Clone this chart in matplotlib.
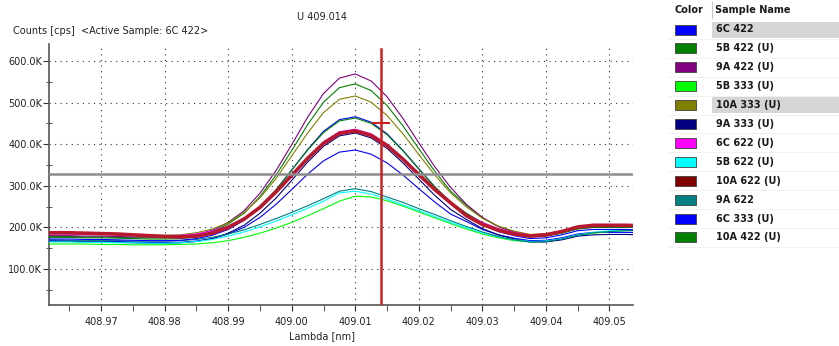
import numpy as np
import matplotlib
matplotlib.use('Agg')
import matplotlib.pyplot as plt
from matplotlib.patches import Rectangle
from matplotlib.ticker import FuncFormatter, MultipleLocator

# wavelength grid [nm] and counts [kcps]
lam = np.round(np.arange(408.960, 409.0551, 0.0025), 4)

s_6C_422 = [168,168,168,167,167,166,165,164,164,164,167,173,184,200,224,255,291,328,360,381,386,376,355,326,293,261,232,214,195,182,174,168,169,175,184,188,188,188,187]
s_5B_422 = [178,178,178,177,177,176,175,175,175,176,181,190,208,234,274,325,385,447,501,536,545,529,493,444,389,335,287,253,223,202,189,180,182,189,199,202,202,202,202]
s_9A_422 = [180,180,180,179,179,178,177,177,177,178,183,193,212,240,282,336,399,465,522,559,569,552,514,462,403,346,296,255,224,202,188,178,180,187,197,200,200,200,200]
s_5B_333 = [160,160,160,160,159,159,158,158,158,159,160,163,168,176,186,198,212,228,245,263,275,273,264,251,237,223,209,196,184,175,168,165,166,171,180,186,190,192,193]
s_10A_333 = [185,185,185,184,184,183,182,182,181,182,187,196,211,236,271,317,372,427,476,508,516,501,469,425,375,326,283,249,222,203,191,183,185,192,201,204,204,204,204]
s_9A_333 = [166,166,166,165,165,164,163,162,162,163,166,173,186,205,234,270,313,357,395,420,427,415,390,355,316,277,243,219,197,182,172,165,165,170,179,182,183,183,182]
s_6C_622 = [184,184,184,183,183,182,181,180,180,181,184,191,203,222,249,284,326,368,406,430,436,425,400,366,328,291,259,233,212,197,188,182,184,191,200,203,203,203,203]
s_5B_622 = [165,165,165,164,164,163,163,162,162,163,166,171,179,189,201,215,230,246,263,283,287,280,268,254,240,226,212,199,187,177,170,166,167,173,182,188,192,194,194]
s_10A_622 = [187,187,187,186,185,184,182,180,178,177,179,186,200,220,248,285,325,366,402,426,432,421,397,364,327,291,259,228,207,193,184,179,182,190,201,205,205,205,204]
s_9A_622 = [170,170,169,169,168,168,167,167,167,168,171,176,184,194,207,221,236,252,269,287,293,286,273,260,245,231,216,202,189,178,170,165,166,172,181,187,190,192,192]
s_6C_333 = [172,172,172,171,171,170,169,168,168,169,173,181,195,217,248,289,338,387,431,459,466,453,425,385,341,297,259,232,207,190,180,173,175,182,192,195,195,195,194]
s_10A_422 = [176,176,176,175,175,174,173,172,172,173,177,185,198,220,251,290,338,386,428,456,463,450,423,384,340,298,261,234,210,194,183,177,179,186,196,200,200,200,200]

names = ['6C 422', '5B 422 (U)', '9A 422 (U)', '5B 333 (U)', '10A 333 (U)', '9A 333 (U)',
         '6C 622 (U)', '5B 622 (U)', '10A 622 (U)', '9A 622', '6C 333 (U)', '10A 422 (U)']
colors = ['#0000ff', '#008000', '#800080', '#00ff00', '#808000', '#000080',
          '#ff00ff', '#00ffff', '#800000', '#008080', '#0000ff', '#008000']
series = [s_6C_422, s_5B_422, s_9A_422, s_5B_333, s_10A_333, s_9A_333,
          s_6C_622, s_5B_622, s_10A_622, s_9A_622, s_6C_333, s_10A_422]
highlighted = ['6C 422', '10A 333 (U)']

cursor_x = 409.014
hline_y = 328e3
cursor_mark_y = 452e3

fig = plt.figure(figsize=(8.39, 3.46), dpi=100)
ax = fig.add_axes([49/839, 41.3/346, 584/839, 260.7/346])

for name, col, s in zip(names, colors, series):
    if name == '10A 622 (U)':
        continue
    ax.plot(lam, np.array(s)*1e3, color=col, lw=0.8, zorder=3)
# the thick one
ax.plot(lam, np.array(s_10A_622)*1e3, color='#b8182e', lw=2.6, zorder=4)

ax.axhline(hline_y, color='#8c8c8c', lw=1.8, zorder=5)
ax.plot([cursor_x, cursor_x], [14e3, 628e3], color='#cc2222', lw=1.8, zorder=6)
ax.plot([cursor_x-0.00125, cursor_x+0.00125], [cursor_mark_y, cursor_mark_y], color='#cc2222', lw=1.5, zorder=6)

ax.set_xlim(408.9618, 409.0537)
ax.set_ylim(14e3, 641e3)
ax.xaxis.set_major_locator(MultipleLocator(0.01))
ax.xaxis.set_minor_locator(MultipleLocator(0.005))
ax.yaxis.set_major_locator(MultipleLocator(100e3))
ax.yaxis.set_minor_locator(MultipleLocator(50e3))
ax.xaxis.set_major_formatter(FuncFormatter(lambda v, p: f'{v:.2f}'))
ax.yaxis.set_major_formatter(FuncFormatter(lambda v, p: f'{v/1000:.1f}K'))
ax.tick_params(which='both', labelsize=7, colors='#333333', labelcolor='#222222')
ax.tick_params(axis='x', which='both', direction='out', length=4, pad=5)
ax.tick_params(axis='y', which='major', direction='out', length=4, pad=1)
ax.tick_params(axis='y', which='minor', direction='inout', length=5)

ax.grid(True, which='major', color='#333333', linestyle=(0, (1, 4)), linewidth=0.8)
ax.set_axisbelow(True)
for side in ['top', 'right']:
    ax.spines[side].set_visible(False)
for side in ['left', 'bottom']:
    ax.spines[side].set_color('#555555')
    ax.spines[side].set_linewidth(1.2)

fig.text(322/839, 1-17/346, 'U 409.014', ha='center', va='center', fontsize=7, color='#222222')
fig.text(13/839, 1-31/346, 'Counts [cps]', ha='left', va='center', fontsize=7, color='#222222')
fig.text(81/839, 1-31/346, '<Active Sample: 6C 422>', ha='left', va='center', fontsize=7, color='#222222')
fig.text(322/839, 10/346, 'Lambda [nm]', ha='center', va='center', fontsize=7, color='#222222')

# sample table on the right
tb = fig.add_axes([660/839, 0, 179/839, 1])
tb.set_xlim(660, 839)
tb.set_ylim(346, 0)
tb.axis('off')
tb.text(675, 10, 'Color', fontsize=7, fontweight='bold', va='center', color='#1a1a1a')
tb.text(715, 10, 'Sample Name', fontsize=7, fontweight='bold', va='center', color='#1a1a1a')
tb.plot([712, 712], [2, 18], color='#c8c8c8', lw=0.8)
for k, (name, col) in enumerate(zip(names, colors)):
    yc = 29.5 + 18.9*k
    if name in highlighted:
        tb.add_patch(Rectangle((712, yc-8), 127, 16, color='#d6d6d6', lw=0))
    tb.plot([668, 839], [yc+9.45, yc+9.45], color='#efefef', lw=0.6)
    tb.add_patch(Rectangle((675, yc-5), 21, 10, facecolor=col, edgecolor='#404040', lw=0.6))
    tb.text(716, yc, name, fontsize=7, fontweight='bold', va='center', color='#1a1a1a')

fig.savefig('out.png', dpi=100)
